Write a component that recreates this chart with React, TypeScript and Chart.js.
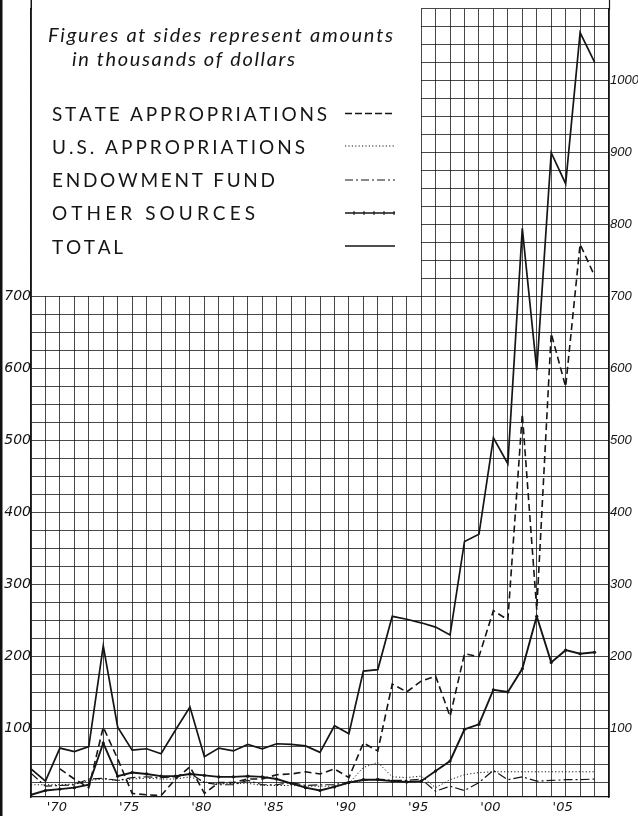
import React, { useEffect, useRef } from 'react';
import { Chart, registerables } from 'chart.js';

Chart.register(...registerables);

// ---------- data ----------
const years = [
  1868, 1869, 1870, 1871, 1872, 1873, 1874, 1875, 1876, 1877,
  1878, 1879, 1880, 1881, 1882, 1883, 1884, 1885, 1886, 1887,
  1888, 1889, 1890, 1891, 1892, 1893, 1894, 1895, 1896, 1897,
  1898, 1899, 1900, 1901, 1902, 1903, 1904, 1905, 1906, 1907,
];

const stateAppropriations = [
  null, null, 44, 30, 18, 102, 58, 10, 8, 7,
  30, 47, 10, 25, 25, 30, 30, 36, 37, 40,
  37, 44, 32, 80, 69, 162, 151, 166, 173, 117,
  204, 200, 264, 251, 537, 265, 649, 575, 773, 729,
];

const usAppropriations = [
  22, 22, 22, 23, 28, 30, 28, 30, 31, 30,
  30, 33, 26, 23, 24, 24, 21, 21, 21, 20,
  20, 20, 24, 46, 53, 33, 32, 34, 18, 29,
  36, 39, 40, 40, 40, 40, 40, 40, 40, 40,
];

const endowmentFund = [
  38, 20, 21, 22, 30, 31, 28, 32, 33, 32,
  33, 38, 25, 22, 22, 28, 22, 22, 25, 21,
  22, 22, 26, 28, 30, 28, 28, 30, 13, 20,
  14, 25, 42, 29, 33, 27, 28, 29, 29, 30,
];

const otherSources = [
  8, 14, 16, 18, 22, 80, 34, 39, 37, 34,
  34, 37, 35, 33, 33, 34, 33, 30, 24, 18,
  14, 19, 25, 29, 29, 27, 26, 27, 41, 55,
  99, 106, 154, 151, 183, 256, 192, 209, 204, 206,
];

const total = [
  44, 27, 73, 68, 75, 215, 102, 70, 72, 65,
  98, 130, 61, 73, 69, 78, 72, 79, 78, 76,
  67, 104, 93, 180, 182, 256, 252, 247, 241, 230,
  360, 370, 504, 468, 795, 598, 900, 857, 1067, 1026,
];

const seriesLabels = [
  'STATE APPROPRIATIONS',
  'U.S. APPROPRIATIONS',
  'ENDOWMENT FUND',
  'OTHER SOURCES',
  'TOTAL',
];

const noteLines = ['Figures at sides represent amounts', 'in thousands of dollars'];

const X_MIN = 1868;
const X_MAX = 1908;
const Y_MIN = 5;
const Y_MAX = 1100;
const GRID_STEP = 25;
const LEFT_LABEL_MAX = 700;
const RIGHT_LABEL_MAX = 1000;
const BOX_RIGHT_YEAR = 1895;
const BOX_BOTTOM_VALUE = 700;

const xTickValues: number[] = [];
for (let v = X_MIN; v <= X_MAX; v++) xTickValues.push(v);
const yTickValues: number[] = [];
for (let v = GRID_STEP; v <= Y_MAX; v += GRID_STEP) yTickValues.push(v);

const INK = '#151515';
const GRID = 'rgba(20,20,20,0.78)';

type Style = { width: number; dash: number[] };
const styles: Style[] = [
  { width: 1.6, dash: [7, 4] },
  { width: 1.0, dash: [1.2, 2.2] },
  { width: 1.2, dash: [9, 3, 2, 3] },
  { width: 1.9, dash: [] },
  { width: 1.7, dash: [] },
];

function drawSpaced(ctx: CanvasRenderingContext2D, text: string, x0: number, x1: number, baseline: number) {
  const chars = Array.from(text);
  const widths = chars.map((c) => ctx.measureText(c).width);
  const natural = widths.reduce((a, b) => a + b, 0);
  const gap = chars.length > 1 ? (x1 - x0 - natural) / (chars.length - 1) : 0;
  let x = x0;
  chars.forEach((c, i) => {
    ctx.fillText(c, x, baseline);
    x += widths[i] + gap;
  });
}

const boxPlugin = {
  id: 'legendBox',
  beforeDatasetsDraw(chart: any) {
    const { ctx, chartArea, scales } = chart;
    const rx = Math.round(scales.x.getPixelForValue(BOX_RIGHT_YEAR) - 0.5);
    const by = Math.round(scales.y.getPixelForValue(BOX_BOTTOM_VALUE) - 0.5);
    ctx.save();
    ctx.fillStyle = '#ffffff';
    ctx.fillRect(chartArea.left + 1, 0, rx - chartArea.left - 1, by);
    ctx.restore();
  },
  afterDraw(chart: any) {
    const { ctx, chartArea } = chart;
    ctx.save();
    // scan edge on the far left
    ctx.fillStyle = '#111';
    ctx.fillRect(0, 0, 2.5, chart.height);
    // border lines continue to the top of the page
    ctx.strokeStyle = INK;
    ctx.lineWidth = 1.5;
    ctx.beginPath();
    ctx.moveTo(Math.round(chartArea.left) + 0.25, 0);
    ctx.lineTo(Math.round(chartArea.left) + 0.25, chartArea.top + 1);
    ctx.stroke();
    ctx.lineWidth = 1.2;
    ctx.beginPath();
    ctx.moveTo(Math.round(chartArea.right) + 0.5, 0);
    ctx.lineTo(Math.round(chartArea.right) + 0.5, chartArea.top + 1);
    ctx.stroke();

    // note text
    ctx.fillStyle = INK;
    ctx.textBaseline = 'alphabetic';
    ctx.font = 'italic 400 20px Lato, "Liberation Sans", sans-serif';
    drawSpaced(ctx, noteLines[0], 48, 393, 42);
    drawSpaced(ctx, noteLines[1], 72, 295, 65.5);

    // legend entries
    ctx.font = '400 19px Lato, "Liberation Sans", sans-serif';
    const rows = [
      { x1: 327, base: 120.5, mid: 113.5 },
      { x1: 305, base: 153.5, mid: 146 },
      { x1: 275, base: 186.5, mid: 180 },
      { x1: 255, base: 220, mid: 213 },
      { x1: 123, base: 253.5, mid: 246 },
    ];
    rows.forEach((r, i) => {
      ctx.fillStyle = INK;
      drawSpaced(ctx, seriesLabels[i], 52, r.x1, r.base);
      const st = styles[i];
      ctx.strokeStyle = INK;
      ctx.lineWidth = Math.min(st.width, 1.4);
      ctx.setLineDash(i === 0 ? [7, 3] : i === 2 ? [8, 3, 2, 3] : st.dash);
      ctx.beginPath();
      ctx.moveTo(345, r.mid);
      ctx.lineTo(395, r.mid);
      ctx.stroke();
      ctx.setLineDash([]);
      if (i === 3) {
        ctx.lineWidth = 1;
        for (let tx = 354; tx < 395; tx += 10) {
          ctx.beginPath();
          ctx.moveTo(tx, r.mid - 2);
          ctx.lineTo(tx, r.mid + 2);
          ctx.stroke();
        }
      }
    });
    ctx.restore();
  },
};

function toPoints(values: (number | null)[]) {
  return years.map((yr, i) => ({ x: yr, y: values[i] }));
}

export default function App() {
  const canvasRef = useRef<HTMLCanvasElement | null>(null);

  useEffect(() => {
    const canvas = canvasRef.current;
    if (!canvas) return;
    const seriesValues = [stateAppropriations, usAppropriations, endowmentFund, otherSources, total];
    const datasets = seriesValues.map((vals, i) => ({
      label: seriesLabels[i],
      data: toPoints(vals),
      borderColor: INK,
      backgroundColor: INK,
      borderWidth: styles[i].width,
      borderDash: styles[i].dash,
      pointRadius: i === 3 ? 1.6 : 0,
      pointBorderWidth: 0,
      pointBackgroundColor: INK,
      tension: 0,
      spanGaps: false,
      fill: false,
    }));

    const tickFont = { family: '"DejaVu Sans", sans-serif', size: 14, style: 'italic' as const };
    const rightFont = { family: '"Liberation Sans", sans-serif', size: 13, style: 'italic' as const };

    const chart = new Chart(canvas, {
      type: 'line',
      data: { datasets: datasets as any },
      options: {
        responsive: false,
        animation: false,
        events: [],
        layout: { padding: { top: 7, left: 0, right: 0, bottom: 0 } },
        plugins: { legend: { display: false }, tooltip: { enabled: false }, title: { display: false } },
        scales: {
          x: {
            type: 'linear',
            min: X_MIN,
            max: X_MAX,
            afterBuildTicks: (s: any) => {
              s.ticks = xTickValues.map((v) => ({ value: v }));
            },
            afterFit: (s: any) => {
              s.height = 19;
            },
            grid: { color: GRID, lineWidth: 1, drawTicks: false },
            border: { display: true, color: INK, width: 1.3 },
            ticks: {
              autoSkip: false,
              maxRotation: 0,
              minRotation: 0,
              padding: 3,
              labelOffset: -3,
              color: INK,
              font: { ...tickFont, size: 13 },
              callback: (v: any) => (Number(v) % 5 === 0 && Number(v) < X_MAX ? "'" + String(v).slice(2) : ''),
            },
          },
          y: {
            type: 'linear',
            position: 'left',
            min: Y_MIN,
            max: Y_MAX,
            afterBuildTicks: (s: any) => {
              s.ticks = yTickValues.map((v) => ({ value: v }));
            },
            afterFit: (s: any) => {
              s.width = 31;
            },
            grid: { color: GRID, lineWidth: 1, drawTicks: false },
            border: { display: true, color: INK, width: 1.5 },
            ticks: {
              autoSkip: false,
              padding: 0,
              color: INK,
              font: tickFont,
              callback: (v: any) => (Number(v) % 100 === 0 && Number(v) <= LEFT_LABEL_MAX ? String(v) : ''),
            },
          },
          y2: {
            type: 'linear',
            position: 'right',
            min: Y_MIN,
            max: Y_MAX,
            afterBuildTicks: (s: any) => {
              s.ticks = yTickValues.map((v) => ({ value: v }));
            },
            afterFit: (s: any) => {
              s.width = 29;
            },
            grid: { display: false, drawTicks: false },
            border: { display: true, color: INK, width: 1.2 },
            ticks: {
              autoSkip: false,
              padding: 1,
              color: INK,
              font: rightFont,
              callback: (v: any) => (Number(v) % 100 === 0 && Number(v) <= RIGHT_LABEL_MAX ? String(v) : ''),
            },
          },
        },
      },
      plugins: [boxPlugin],
    });
    return () => chart.destroy();
  }, []);

  return (
    <div style={{ position: 'absolute', left: 0, top: 0, width: 638, height: 816, background: '#fff' }}>
      <canvas ref={canvasRef} width={638} height={816} style={{ display: 'block', width: 638, height: 816 }} />
    </div>
  );
}
